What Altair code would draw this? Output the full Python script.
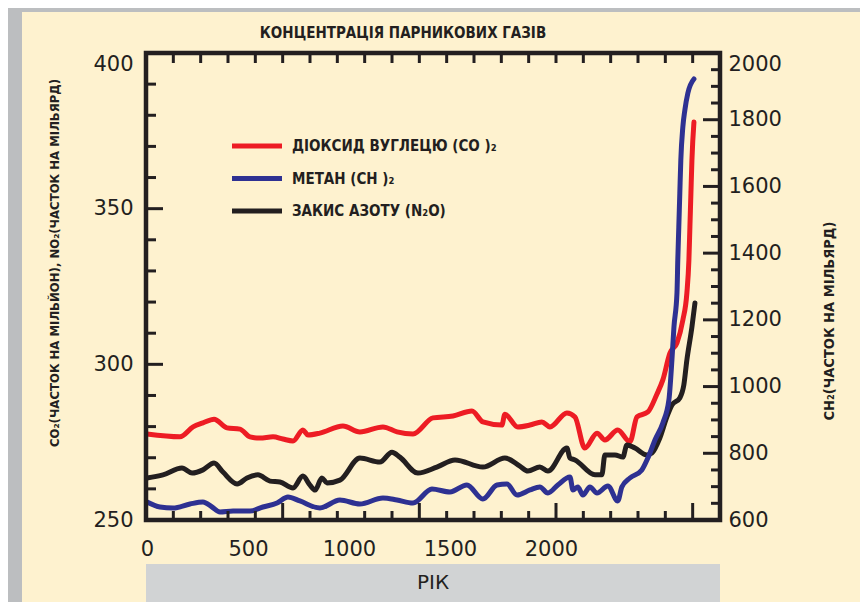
import altair as alt
import pandas as pd

# ---------------- data ----------------
GASES = ["ДІОКСИД ВУГЛЕЦЮ (CO )₂", "МЕТАН (CH )₂", "ЗАКИС АЗОТУ (N₂O)"]
COLORS = ["#ED1C24", "#2E3192", "#231F20"]

co2_years = [0, 163, 228, 277, 332, 396, 460, 510, 559, 624, 673, 723, 772, 797, 856, 970, 1054, 1168, 1238, 1317,
             1416, 1515, 1609, 1663, 1757, 1772, 1836, 1896, 1955, 1995, 2079, 2119, 2168, 2228, 2267, 2331, 2391,
             2426, 2480, 2525, 2554, 2589, 2624, 2653, 2673, 2683, 2688, 2693, 2698, 2708]
co2 = [277.6, 276.7, 279.9, 281.2, 282.4, 279.6, 279.2, 276.7, 276.3, 276.7, 276.0, 275.4, 278.9, 277.3, 277.9,
       280.2, 278.3, 279.9, 278.3, 277.6, 282.8, 283.4, 285.0, 281.5, 280.5, 284.0, 279.9, 280.5, 281.5, 279.9,
       284.4, 283.1, 273.1, 277.9, 275.7, 278.9, 275.1, 283.1, 284.7, 290.5, 295.0, 303.6, 306.9, 314.2, 322.9,
       333.5, 344.1, 355.0, 365.6, 377.8]

ch4_years = [0, 64, 129, 213, 277, 322, 361, 426, 510, 574, 644, 698, 757, 856, 955, 1054, 1168, 1238, 1317, 1411,
             1500, 1584, 1663, 1733, 1782, 1832, 1896, 1945, 1985, 2034, 2094, 2109, 2133, 2158, 2193, 2228, 2282,
             2331, 2351, 2391, 2450, 2480, 2515, 2554, 2584, 2599, 2609, 2624, 2628, 2633, 2638, 2643, 2653, 2663,
             2678, 2708]
ch4 = [654, 639, 636, 648, 654, 639, 624, 627, 627, 639, 651, 669, 657, 636, 660, 648, 666, 660, 651, 693,
       684, 705, 663, 705, 708, 675, 690, 699, 681, 705, 729, 690, 699, 675, 699, 681, 702, 657, 699, 726,
       750, 786, 840, 891, 960, 1080, 1179, 1281, 1379, 1478, 1580, 1679, 1778, 1829, 1880, 1922]

n2o_years = [0, 79, 173, 223, 277, 332, 376, 446, 495, 549, 609, 658, 723, 772, 807, 832, 866, 891, 955, 1054,
             1153, 1213, 1252, 1341, 1435, 1525, 1663, 1772, 1846, 1886, 1945, 1985, 2079, 2094, 2119, 2218, 2252,
             2267, 2317, 2356, 2376, 2416, 2475, 2500, 2539, 2574, 2599, 2638, 2658, 2673, 2698, 2713]
n2o = [263.5, 264.5, 266.7, 265.1, 266.1, 268.3, 265.4, 261.6, 263.5, 264.5, 262.5, 262.2, 260.3, 264.1, 261.2,
       259.6, 263.5, 261.9, 262.8, 269.9, 268.6, 271.8, 270.2, 265.1, 267.0, 269.3, 267.0, 269.9, 267.3, 265.7,
       267.0, 265.7, 273.1, 269.9, 269.3, 264.5, 264.5, 270.9, 270.9, 270.2, 274.1, 273.1, 270.9, 271.5, 276.3,
       283.1, 286.9, 289.2, 293.4, 301.4, 312.0, 319.7]

X_LABELS = [0, 500, 1000, 1500, 2000]
LEFT_LABELS = [250, 300, 350, 400]
RIGHT_LABELS = [600, 800, 1000, 1200, 1400, 1600, 1800, 2000]

TITLE = "КОНЦЕНТРАЦІЯ ПАРНИКОВИХ ГАЗІВ"
LEFT_TITLE = "CO₂(ЧАСТОК НА МІЛЬЙОН), NO₂(ЧАСТОК НА МІЛЬЯРД)"
RIGHT_TITLE = "CH₂(ЧАСТОК НА МІЛЬЯРД)"
X_TITLE = "РІК"

# ---------------- styling ----------------
W, H = 574, 467
INK = "#231F20"
BEIGE = "#FEF2CF"
NARROW = "Liberation Sans Narrow, DejaVu Sans Condensed, Arial Narrow, sans-serif"
NUMFONT = "DejaVu Sans"
X_DOMAIN = [-5, 2837]

xs = alt.Scale(domain=X_DOMAIN, nice=False, zero=False)
ys_left = alt.Scale(domain=[250, 400], nice=False, zero=False)
ys_right = alt.Scale(domain=[600, 2000], nice=False, zero=False)
cs = alt.Scale(domain=GASES, range=COLORS)

one = pd.DataFrame({"a": [0]})

# tick positions (decorative inner ticks)
n_div = 21
x_ticks = [X_DOMAIN[0] + k * (X_DOMAIN[1] - X_DOMAIN[0]) / n_div for k in range(1, n_div)]
x_ticks_long = [x_ticks[k - 1] for k in (5, 10, 15, 20)]
x_ticks_short = [t for t in x_ticks if t not in x_ticks_long]
left_minor = [v for v in range(260, 400, 10) if v not in LEFT_LABELS]
right_minor = [v for v in range(650, 2000, 50) if v not in RIGHT_LABELS]

axis_common = dict(title=None, ticks=False, domain=False, grid=False, labelFont=NUMFONT,
                   labelFontSize=21, labelColor=INK, zindex=2, format="d")
x_axis = alt.Axis(orient="bottom", values=X_LABELS, labelPadding=18, labelFlush=False,
                  labelOverlap=False, **axis_common)
left_axis = alt.Axis(orient="left", values=LEFT_LABELS, labelPadding=13,
                     labelBaseline={"expr": "datum.value == 400 ? 'top' : 'middle'"},
                     **axis_common)
right_axis = alt.Axis(orient="right", values=RIGHT_LABELS, labelPadding=8,
                      labelBaseline={"expr": "datum.value == 2000 ? 'top' : 'middle'"},
                      **axis_common)

X = alt.X("year:Q", scale=xs, axis=x_axis)

bg = alt.Chart(one).mark_rect(color=BEIGE).encode(
    x=alt.value(-124), x2=alt.value(715), y=alt.value(-41), y2=alt.value(560))

grey_box = alt.Chart(one).mark_rect(color="#D1D3D4").encode(
    x=alt.value(0), x2=alt.value(W), y=alt.value(511), y2=alt.value(549))
grey_text = alt.Chart(one).mark_text(text=X_TITLE, font=NUMFONT, fontSize=20, color=INK,
                                     align="center", baseline="middle").encode(
    x=alt.value(W / 2), y=alt.value(530))

line_kw = dict(strokeWidth=5, interpolate="monotone", strokeCap="round", strokeJoin="round")

df_co2 = pd.DataFrame({"year": co2_years, "value": co2, "gas": GASES[0]})
df_ch4 = pd.DataFrame({"year": ch4_years, "value": ch4, "gas": GASES[1]})
df_n2o = pd.DataFrame({"year": n2o_years, "value": n2o, "gas": GASES[2]})

line_co2 = alt.Chart(df_co2).mark_line(**line_kw).encode(
    x=X,
    y=alt.Y("value:Q", scale=ys_left, axis=left_axis),
    color=alt.Color("gas:N", scale=cs, legend=None))
line_n2o = alt.Chart(df_n2o).mark_line(**line_kw).encode(
    x=X,
    y=alt.Y("value:Q", scale=ys_left, axis=None),
    color=alt.Color("gas:N", scale=cs, legend=None))
line_ch4 = alt.Chart(df_ch4).mark_line(**line_kw).encode(
    x=X,
    y=alt.Y("value:Q", scale=ys_right, axis=right_axis),
    color=alt.Color("gas:N", scale=cs, legend=None))

tick_kw = dict(color=INK, strokeWidth=3)


def ytick(values, scale, x0, x1):
    return alt.Chart(pd.DataFrame({"v": values})).mark_rule(**tick_kw).encode(
        y=alt.Y("v:Q", scale=scale, axis=None), x=alt.value(x0), x2=alt.value(x1))


def xtick(values, y0, y1):
    return alt.Chart(pd.DataFrame({"year": values})).mark_rule(**tick_kw).encode(
        x=X, y=alt.value(y0), y2=alt.value(y1))


ticks = [
    ytick(LEFT_LABELS, ys_left, 0, 17),
    ytick(left_minor, ys_left, 0, 10),
    ytick(RIGHT_LABELS, ys_right, W - 17, W),
    ytick(right_minor, ys_right, W - 9, W),
    xtick(x_ticks, 0, 10),
    xtick(x_ticks_short, H - 9, H),
    xtick(x_ticks_long, H - 17, H),
]

frame = alt.Chart(one).mark_rect(filled=False, stroke=INK, strokeWidth=4.5).encode(
    x=alt.value(0), x2=alt.value(W), y=alt.value(0), y2=alt.value(H))

title = alt.Chart(one).mark_text(text=TITLE, font=NARROW, fontSize=15, fontWeight="bold",
                                 color=INK, align="center", baseline="middle").encode(
    x=alt.value(257), y=alt.value(-20))
ltitle = alt.Chart(one).mark_text(text=LEFT_TITLE, font=NARROW, fontSize=13, fontWeight="bold",
                                  color=INK, align="center", baseline="middle", angle=270).encode(
    x=alt.value(-91), y=alt.value(210))
rtitle = alt.Chart(one).mark_text(text=RIGHT_TITLE, font=NARROW, fontSize=14.5, fontWeight="bold",
                                  color=INK, align="center", baseline="middle", angle=270).encode(
    x=alt.value(684), y=alt.value(268))

df_leg = pd.DataFrame({"gas": GASES})
leg_y = alt.Y("gas:N", scale=alt.Scale(type="point", domain=GASES, range=[93, 158], padding=0),
              axis=None)
leg_lines = alt.Chart(df_leg).mark_rule(strokeWidth=5).encode(
    y=leg_y, x=alt.value(86), x2=alt.value(136),
    color=alt.Color("gas:N", scale=cs, legend=None))
leg_text = alt.Chart(df_leg).mark_text(font=NARROW, fontSize=15, fontWeight="bold", color=INK,
                                       align="left", baseline="middle").encode(
    y=leg_y, x=alt.value(146), text="gas:N")

chart = alt.layer(
    bg, grey_box, grey_text, line_co2, line_n2o, line_ch4, *ticks, frame,
    title, ltitle, rtitle, leg_lines, leg_text
).resolve_scale(y="independent").properties(
    width=W, height=H, autosize="none",
    padding={"left": 138, "top": 45, "right": 140, "bottom": 82},
    background="#BCBEC0",
).configure_view(stroke="transparent")

chart.save("out.html", embed_options={"renderer": "svg", "actions": False})
